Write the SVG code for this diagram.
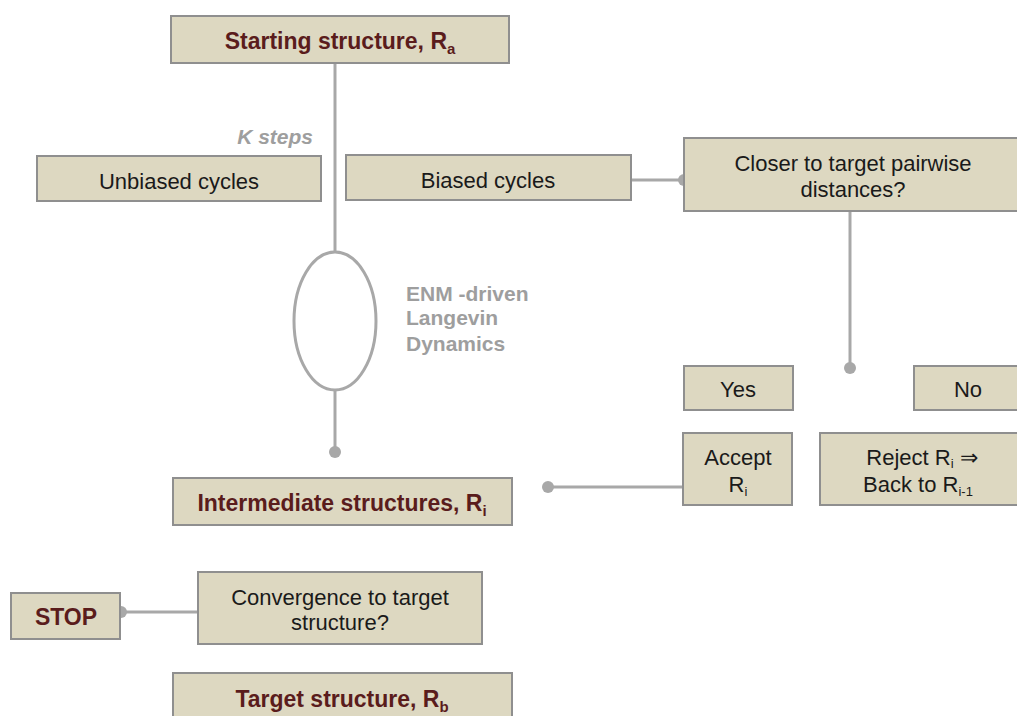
<svg xmlns="http://www.w3.org/2000/svg" width="1017" height="716" viewBox="0 0 1017 716">
<style>
.box{fill:#ddd8c1;stroke:#8f8f8f;stroke-width:2}
.t{font-family:"Liberation Sans",Arial,sans-serif;font-size:22px;fill:#1a1a1a;text-anchor:middle}
.b{font-family:"Liberation Sans",Arial,sans-serif;font-size:23px;font-weight:bold;fill:#5a1c1c;text-anchor:middle}
.g{font-family:"Liberation Sans",Arial,sans-serif;font-size:21px;font-weight:bold;fill:#9e9e9e}
.ln{stroke:#a8a8a8;stroke-width:3;fill:none}
.dot{fill:#a8a8a8}
</style>
<rect width="1017" height="716" fill="#fff"/>
<g id="connectors">
<line class="ln" x1="335" y1="63" x2="335" y2="253"/>
<ellipse class="ln" cx="335" cy="321" rx="41" ry="69"/>
<line class="ln" x1="335" y1="390" x2="335" y2="452"/>
<circle class="dot" cx="335" cy="452" r="6"/>
<line class="ln" x1="631" y1="180" x2="684" y2="180"/>
<circle class="dot" cx="684" cy="180" r="6"/>
<line class="ln" x1="850" y1="211" x2="850" y2="368"/>
<circle class="dot" cx="850" cy="368" r="6"/>
<line class="ln" x1="548" y1="487" x2="683" y2="487"/>
<circle class="dot" cx="548" cy="487" r="6"/>
<line class="ln" x1="120" y1="612" x2="199" y2="612"/>
<circle class="dot" cx="121" cy="612" r="6"/>
<text class="g" x="313" y="144" text-anchor="end" font-style="italic" font-size="23">K steps</text>
<text class="g" x="406" y="301">ENM -driven</text>
<text class="g" x="406" y="325">Langevin</text>
<text class="g" x="406" y="351">Dynamics</text>
</g>
<g id="start"><rect class="box" x="171" y="16" width="338" height="47"/><text class="b" x="340" y="49">Starting structure, R<tspan font-size="15" dy="5">a</tspan></text></g>
<g id="unbiased"><rect class="box" x="37" y="156" width="284" height="45"/><text class="t" x="179" y="189">Unbiased cycles</text></g>
<g id="biased"><rect class="box" x="346" y="155" width="285" height="45"/><text class="t" x="488" y="188">Biased cycles</text></g>
<g id="closer"><rect class="box" x="684" y="138" width="340" height="73"/><text class="t" x="853" y="171">Closer to target pairwise</text><text class="t" x="853" y="197">distances?</text></g>
<g id="yes"><rect class="box" x="684" y="366" width="109" height="44"/><text class="t" x="738" y="397">Yes</text></g>
<g id="no"><rect class="box" x="914" y="366" width="110" height="44"/><text class="t" x="968" y="397">No</text></g>
<g id="accept"><rect class="box" x="683" y="433" width="109" height="72"/><text class="t" x="738" y="465">Accept</text><text class="t" x="738" y="492">R<tspan font-size="13" dy="4">i</tspan></text></g>
<g id="reject"><rect class="box" x="820" y="433" width="204" height="72"/><text class="t" x="922" y="465">Reject R<tspan font-size="13" dy="3">i</tspan><tspan dy="-3">  ⇒</tspan></text><text class="t" x="918" y="492">Back to R<tspan font-size="13" dy="4">i-1</tspan></text></g>
<g id="intermediate"><rect class="box" x="173" y="478" width="339" height="47"/><text class="b" x="342" y="511">Intermediate structures, R<tspan font-size="15" dy="5">i</tspan></text></g>
<g id="stop"><rect class="box" x="11" y="593" width="109" height="46"/><text class="b" x="66" y="625">STOP</text></g>
<g id="convergence"><rect class="box" x="198" y="572" width="284" height="72"/><text class="t" x="340" y="605">Convergence to target</text><text class="t" x="340" y="630">structure?</text></g>
<g id="target"><rect class="box" x="173" y="673" width="339" height="50"/><text class="b" x="342" y="707">Target structure, R<tspan font-size="15" dy="5">b</tspan></text></g>
</svg>
